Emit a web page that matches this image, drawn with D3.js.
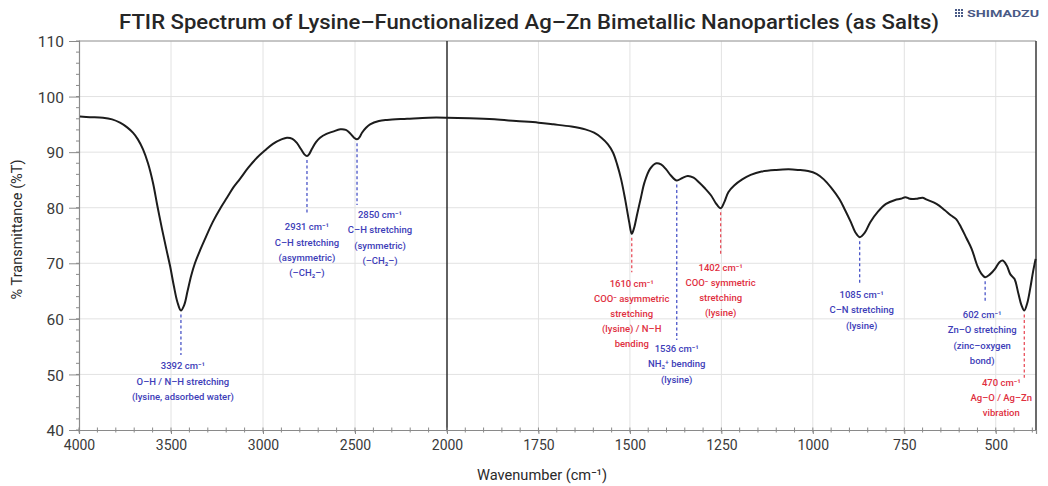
<!DOCTYPE html>
<html>
<head>
<meta charset="utf-8">
<script src="https://cdn.jsdelivr.net/npm/d3@7"></script>
<style>
  html, body { margin: 0; padding: 0; background: #fff; }
  svg { display: block; font-family: Roboto, "DejaVu Sans", sans-serif; }
</style>
</head>
<body>
<svg id="chart" width="1048" height="486"></svg>
<script>
// Spectrum: wavenumber (cm⁻¹) and % transmittance
const wavenumbers = [
  3995, 3940, 3870, 3820, 3777, 3740, 3707, 3680, 3652, 3625, 3598, 3575, 3549, 3525, 3505,
  3485, 3465, 3446, 3428, 3410, 3390, 3370, 3340, 3315, 3272, 3230, 3196, 3160, 3125, 3080,
  3033, 2990, 2946, 2900, 2870, 2840, 2817, 2795, 2775, 2761, 2748, 2734, 2712, 2690, 2655,
  2620, 2580, 2550, 2527, 2505, 2489, 2475, 2462, 2440, 2418, 2370, 2326, 2217, 2100, 2000,
  1938, 1870, 1811, 1750, 1709, 1660, 1622, 1598, 1578, 1560, 1546, 1535, 1524, 1513, 1502,
  1495, 1488, 1481, 1470, 1460, 1445, 1428, 1415, 1401, 1388, 1372, 1358, 1342, 1326, 1310,
  1295, 1278, 1265, 1252, 1242, 1231, 1215, 1193, 1170, 1140, 1100, 1066, 1040, 1013, 990,
  970, 950, 928, 912, 896, 884, 872, 858, 843, 822, 800, 775, 760, 747, 735,
  718, 700, 690, 662, 640, 622, 609, 595, 580, 566, 550, 540, 529, 516, 502,
  490, 481, 470, 460, 449, 438, 430, 422, 414, 406, 398, 391
];
const transmittance = [
  96.4, 96.3, 96.2, 95.9, 95.3, 94.5, 93.5, 92.3, 90.5, 88.0, 84.5, 80.5, 76.2, 72.5, 69.5,
  66.0, 63.0, 61.5, 62.5, 65.0, 67.8, 70.0, 72.5, 74.4, 77.5, 80.0, 81.8, 83.7, 85.2, 87.2,
  89.0, 90.3, 91.5, 92.3, 92.6, 92.4, 91.7, 90.6, 89.6, 89.3, 89.7, 90.6, 91.8, 92.6, 93.3,
  93.7, 94.1, 94.0, 93.4, 92.6, 92.3, 92.7, 93.5, 94.4, 95.0, 95.6, 95.8, 96.0, 96.2, 96.2,
  96.1, 95.9, 95.6, 95.3, 95.0, 94.6, 94.1, 93.5, 92.6, 91.4, 89.9, 87.8, 85.1, 81.5, 77.4,
  75.3, 76.5, 78.6, 81.8, 84.6, 87.0, 88.0, 87.8, 86.9, 85.8, 84.9, 85.3, 85.7, 85.4, 84.5,
  83.5, 82.2, 80.8, 79.9, 81.0, 82.8, 84.0, 85.1, 85.9, 86.5, 86.8, 86.9, 86.8, 86.6, 86.1,
  85.1, 83.6, 81.6, 79.6, 77.4, 75.6, 74.7, 75.5, 77.4, 79.3, 80.7, 81.4, 81.6, 81.9, 81.6,
  81.6, 81.8, 81.5, 80.7, 79.6, 78.6, 78.0, 76.5, 74.5, 72.6, 69.5, 68.2, 67.5, 68.0, 69.0,
  70.2, 70.5, 69.6, 68.0, 67.2, 64.5, 62.5, 61.5, 62.8, 65.4, 68.5, 70.8
];

// Axis ticks
const xMajorTicks = [4000, 3500, 3000, 2500, 2000, 1750, 1500, 1250, 1000, 750, 500];
const yMajorTicks = [40, 50, 60, 70, 80, 90, 100, 110];

// Assigned bands: axis position of each minimum, its caption lines, and category
const bandMinima = [3446, 2761, 2489, 1495, 1372, 1252, 872, 529, 422];
const bandLabels = [
  ["3392 cm⁻¹", "O–H / N–H stretching", "(lysine, adsorbed water)"],
  ["2931 cm⁻¹", "C–H stretching", "(asymmetric)", "(–CH₂–)"],
  ["2850 cm⁻¹", "C–H stretching", "(symmetric)", "(–CH₂–)"],
  ["1610 cm⁻¹", "COO⁻ asymmetric", "stretching", "(lysine) / N–H", "bending"],
  ["1536 cm⁻¹", "NH₃⁺ bending", "(lysine)"],
  ["1402 cm⁻¹", "COO⁻ symmetric", "stretching", "(lysine)"],
  ["1085 cm⁻¹", "C–N stretching", "(lysine)"],
  ["602 cm⁻¹", "Zn–O stretching", "(zinc–oxygen", "bond)"],
  ["470 cm⁻¹", "Ag–O / Ag–Zn", "vibration"]
];
const bandCategory = ["organic", "organic", "organic", "carboxylate", "organic", "carboxylate", "organic", "organic", "metal"];

// Where each caption sits (leader end and first text line in %T, horizontal shift in px)
const captionLayout = [
  { leaderEnd: 53.5, textTop: 51.5, dx: 2 },
  { leaderEnd: 79.0, textTop: 76.5, dx: 0 },
  { leaderEnd: 80.5, textTop: 78.7, dx: 23 },
  { leaderEnd: 68.4, textTop: 66.4, dx: 0 },
  { leaderEnd: 56.2, textTop: 54.6, dx: 0 },
  { leaderEnd: 71.5, textTop: 69.3, dx: 0 },
  { leaderEnd: 66.4, textTop: 64.3, dx: 2 },
  { leaderEnd: 62.8, textTop: 60.7, dx: -3 },
  { leaderEnd: 49.4, textTop: 48.6, dx: -23 }
];

const svg = d3.select("#chart");
const plot = { left: 79, right: 1036, top: 41, bottom: 430 };

// Split x scale: 4000–2000 and 2000–390 each get their own spacing
const x = d3.scaleLinear().domain([4000, 2000, 390]).range([plot.left, 447, plot.right]);
const y = d3.scaleLinear().domain([40, 110]).range([plot.bottom, plot.top]);

const xMinorTicks = d3.range(4000, 2000, -100).concat(d3.range(2000, 389, -50));
const yMinorTicks = d3.range(40, 110.1, 2);

// Grid
const grid = svg.append("g");
grid.selectAll("line.gx").data(xMajorTicks.filter(d => d !== 4000 && d !== 2000)).join("line")
  .attr("x1", d => x(d)).attr("x2", d => x(d))
  .attr("y1", plot.top).attr("y2", plot.bottom)
  .attr("stroke", "#e2e2e2").attr("stroke-width", 1);
grid.selectAll("line.gy").data(yMajorTicks.filter(d => d !== 40)).join("line")
  .attr("x1", plot.left).attr("x2", plot.right)
  .attr("y1", d => y(d)).attr("y2", d => y(d))
  .attr("stroke", "#e2e2e2").attr("stroke-width", 1);

// Frame
svg.append("line").attr("x1", plot.left).attr("x2", plot.right)
  .attr("y1", plot.top).attr("y2", plot.top).attr("stroke", "#9a9a9a").attr("stroke-width", 1);
svg.append("line").attr("x1", plot.right).attr("x2", plot.right)
  .attr("y1", plot.top).attr("y2", plot.bottom).attr("stroke", "#3a3a3a").attr("stroke-width", 1.5);
svg.append("line").attr("x1", x(2000)).attr("x2", x(2000))
  .attr("y1", plot.top).attr("y2", plot.bottom).attr("stroke", "#2e2e2e").attr("stroke-width", 1.5);

// Axes
const xAxis = svg.append("g").attr("transform", `translate(0,${plot.bottom})`)
  .call(d3.axisBottom(x).tickValues(xMajorTicks).tickFormat(d3.format("d")).tickSize(4).tickPadding(6));
const yAxis = svg.append("g").attr("transform", `translate(${plot.left},0)`)
  .call(d3.axisLeft(y).tickValues(yMajorTicks).tickSize(10).tickPadding(5));
[xAxis, yAxis].forEach(g => {
  g.select(".domain").attr("stroke", "#8a8a8a").attr("stroke-width", 1.2);
  g.selectAll(".tick line").attr("stroke", "#8a8a8a");
  g.selectAll(".tick text").attr("fill", "#3a3a3a").attr("font-family", "Roboto, sans-serif");
});
xAxis.selectAll(".tick text").attr("font-size", 14);
yAxis.selectAll(".tick text").attr("font-size", 15.5).attr("dy", "0.36em");

svg.append("g").selectAll("line").data(xMinorTicks).join("line")
  .attr("x1", d => x(d)).attr("x2", d => x(d))
  .attr("y1", plot.bottom - 2.5).attr("y2", plot.bottom + 2.5)
  .attr("stroke", "#8a8a8a").attr("stroke-width", 1);
svg.append("g").selectAll("line").data(yMinorTicks).join("line")
  .attr("x1", plot.left - 3).attr("x2", plot.left + 1)
  .attr("y1", d => y(d)).attr("y2", d => y(d))
  .attr("stroke", "#8a8a8a").attr("stroke-width", 1);

// Spectrum trace
const spectrum = wavenumbers.map((w, i) => ({ w, t: transmittance[i] }));
svg.append("path").datum(spectrum)
  .attr("fill", "none").attr("stroke", "#1c1c1c").attr("stroke-width", 2)
  .attr("stroke-linejoin", "round")
  .attr("d", d3.line().x(d => x(d.w)).y(d => y(d.t)).curve(d3.curveCatmullRom.alpha(0.5)));

// Band annotations
svg.append("clipPath").attr("id", "plot-clip").append("rect")
  .attr("x", plot.left).attr("y", plot.top)
  .attr("width", plot.right - plot.left - 1).attr("height", plot.bottom - plot.top);
const categoryColor = { organic: "#3d3db8", carboxylate: "#e0303f", metal: "#e0303f" };
const leaderColor = { organic: "#4a55c8", carboxylate: "#e8505c", metal: "#e8505c" };
const troughT = w => transmittance[wavenumbers.indexOf(w)];
const ann = svg.append("g").attr("clip-path", "url(#plot-clip)");
bandMinima.forEach((w, i) => {
  const cat = bandCategory[i];
  const lay = captionLayout[i];
  ann.append("line")
    .attr("x1", x(w)).attr("x2", x(w))
    .attr("y1", y(troughT(w)) + 4).attr("y2", y(lay.leaderEnd))
    .attr("stroke", leaderColor[cat]).attr("stroke-width", 1.3)
    .attr("stroke-dasharray", "3,2.5");
  const txt = ann.append("text")
    .attr("x", x(w) + lay.dx).attr("y", y(lay.textTop))
    .attr("text-anchor", "middle").attr("fill", categoryColor[cat])
    .attr("font-size", 9.5).attr("font-weight", 500);
  bandLabels[i].forEach((line, j) => {
    txt.append("tspan").attr("x", x(w) + lay.dx).attr("dy", j === 0 ? "0.35em" : 15.2).text(line);
  });
});

// Titles
svg.append("text").attr("x", 529).attr("y", 29).attr("text-anchor", "middle")
  .attr("font-size", 21).attr("font-weight", 500).attr("fill", "#262626")
  .attr("textLength", 820).attr("lengthAdjust", "spacingAndGlyphs")
  .text("FTIR Spectrum of Lysine–Functionalized Ag–Zn Bimetallic Nanoparticles (as Salts)");
svg.append("text").attr("x", 542).attr("y", 480).attr("text-anchor", "middle")
  .attr("font-size", 15).attr("fill", "#2a2a2a")
  .attr("textLength", 130).attr("lengthAdjust", "spacingAndGlyphs")
  .text("Wavenumber (cm⁻¹)");
svg.append("text").attr("transform", `translate(22,${(plot.top + plot.bottom) / 2 - 6}) rotate(-90)`)
  .attr("text-anchor", "middle").attr("font-size", 14.5).attr("fill", "#2a2a2a")
  .text("% Transmittance (%T)");

// Instrument mark
const logo = svg.append("g").attr("transform", "translate(955,9)");
d3.range(3).forEach(r => d3.range(3).forEach(c => {
  logo.append("rect").attr("x", c * 3).attr("y", r * 3).attr("width", 2).attr("height", 2).attr("fill", "#4a5a86");
}));
logo.append("text").attr("x", 12).attr("y", 7.8).attr("font-size", 9).attr("font-weight", 700)
  .attr("textLength", 72).attr("lengthAdjust", "spacingAndGlyphs")
  .attr("fill", "#4a5a86").text("SHIMADZU");
</script>
</body>
</html>
